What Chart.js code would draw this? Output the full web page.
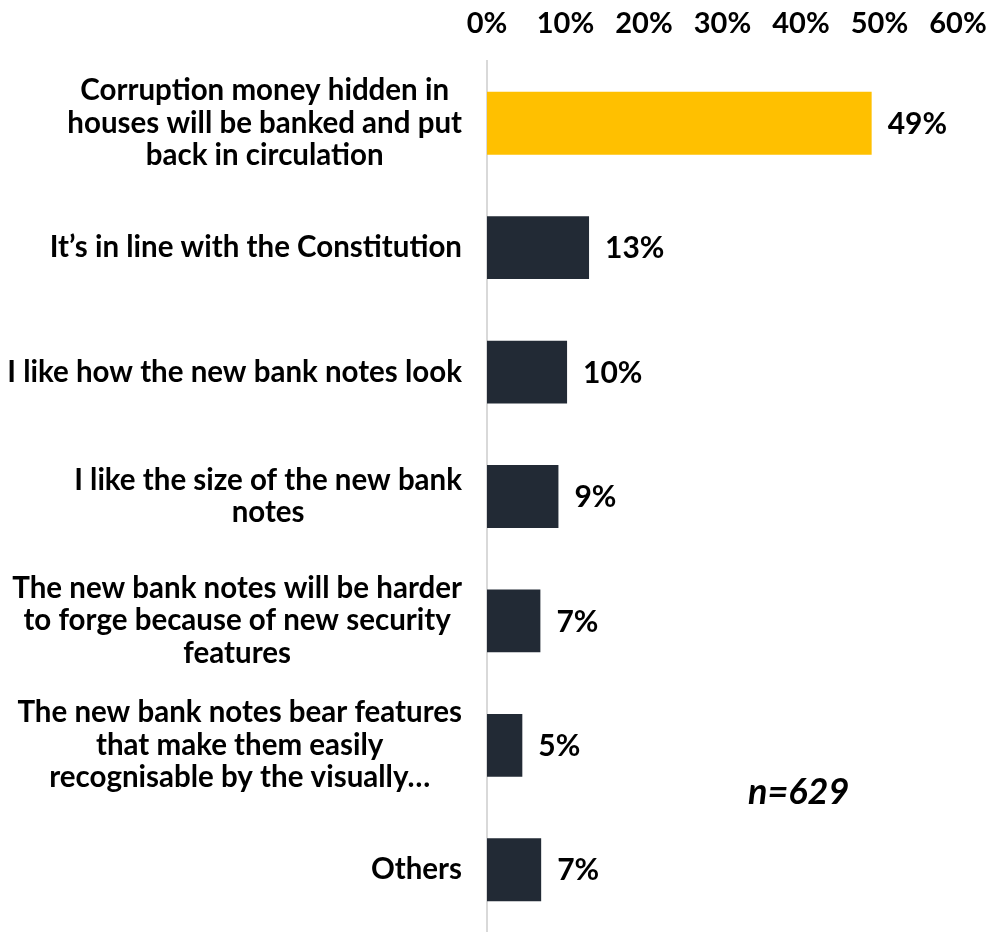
<!DOCTYPE html>
<html>
<head>
<meta charset="utf-8">
<script src="https://cdn.jsdelivr.net/npm/chart.js@4"></script>
<style>
  html, body { margin: 0; padding: 0; background: #fff; }
  #wrap { width: 988px; height: 932px; }
</style>
</head>
<body>
<div id="wrap"><canvas id="chart"></canvas></div>
<script>
// ----------- Data -----------
const categories = [
    ["Corruption money hidden in", "houses will be banked and put", "back in circulation"],
    ["It\u2019s in line with the Constitution"],
    ["I like how the new bank notes look"],
    ["I like the size of the new bank", "notes"],
    ["The new bank notes will be harder", "to forge because of new security", "features"],
    ["The new bank notes bear features", "that make them easily", "recognisable by the visually\u2026"],
    ["Others"]
];
const values = [49, 13.0, 10.2, 9.1, 6.8, 4.5, 6.9];
const valueLabels = ["49%", "13%", "10%", "9%", "7%", "5%", "7%"];
const tickValues = [0, 10, 20, 30, 40, 50, 60];
const sampleNote = "n=629";

const barColors = values.map((v, i) => i === 0 ? "#FFC000" : "#222A35");
const FONT = "Lato, 'DejaVu Sans', sans-serif";

// ----------- Label drawing -----------
const labelPlugin = {
    id: "labels",
    afterDatasetsDraw(chart) {
        const ctx = chart.ctx;
        const x = chart.scales.x;
        const y = chart.scales.y;
        ctx.save();
        ctx.fillStyle = "#000";

        // category labels: block right-aligned, lines centered inside
        ctx.font = "bold 29.5px " + FONT;
        ctx.textBaseline = "middle";
        ctx.textAlign = "center";
        const lh = 32.5;
        categories.forEach((lines, i) => {
            const cy = y.getPixelForValue(i);
            const w = Math.max(...lines.map(l => ctx.measureText(l).width));
            const cx = 462 - w / 2;
            const top = cy - (lines.length - 1) * lh / 2;
            lines.forEach((l, k) => ctx.fillText(l, cx, top + k * lh));
        });

        // value labels
        ctx.font = "bold 30px " + FONT;
        ctx.textAlign = "left";
        values.forEach((v, i) => {
            ctx.fillText(valueLabels[i], x.getPixelForValue(v) + 16, y.getPixelForValue(i) + 1);
        });

        // sample size
        ctx.font = "italic bold 36px " + FONT;
        ctx.textAlign = "center";
        ctx.fillText(sampleNote, x.getPixelForValue(39.7), y.getPixelForValue(5.38));
        ctx.restore();
    }
};

// ----------- Chart -----------
new Chart(document.getElementById("chart"), {
    type: "bar",
    data: {
        labels: categories.map(c => c.join(" ")),
        datasets: [{
            data: values,
            backgroundColor: barColors,
            barPercentage: 0.505,
            categoryPercentage: 1
        }]
    },
    options: {
        indexAxis: "y",
        responsive: true,
        maintainAspectRatio: false,
        animation: false,
        layout: { padding: { left: 0, right: 30, top: 0, bottom: 0 } },
        plugins: { legend: { display: false }, tooltip: { enabled: false } },
        scales: {
            x: {
                position: "top",
                min: 0,
                max: 60,
                afterBuildTicks: s => { s.ticks = tickValues.map(v => ({ value: v })); },
                afterFit: s => { s.height = 61; s.paddingLeft = 0; s.paddingRight = 0; },
                grid: { display: false },
                border: { display: false },
                ticks: {
                    padding: 12,
                    color: "#000",
                    font: { family: FONT, size: 29, weight: "bold" },
                    callback: v => v + "%"
                }
            },
            y: {
                afterFit: s => { s.width = 487; },
                grid: { display: false },
                border: { display: true, color: "#D9D9D9", width: 2 },
                ticks: { display: false }
            }
        }
    },
    plugins: [labelPlugin]
});
</script>
</body>
</html>
